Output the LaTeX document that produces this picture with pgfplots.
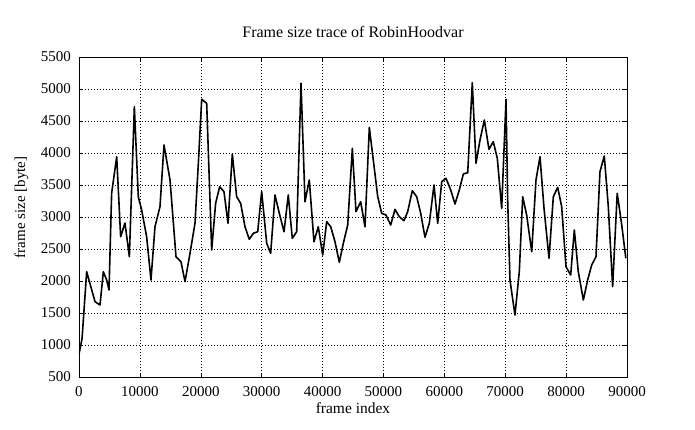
\documentclass[border=0pt]{standalone}
\usepackage{fontspec}
\setmainfont{Liberation Serif}
\usepackage{pgfplots}
\pgfplotsset{compat=1.18}
\begin{document}
\fontsize{15}{18}\selectfont
\begin{tikzpicture}[x=1pt,y=1pt]
\path[use as bounding box] (-79,-52) rectangle (616,377);
\begin{axis}[
  at={(0,0)}, anchor=south west,
  scale only axis, width=548pt, height=320pt,
  xmin=0, xmax=90000, ymin=500, ymax=5500,
  xtick={0,10000,...,90000}, ytick={500,1000,...,5500},
  scaled ticks=false,
  /pgf/number format/.cd, set thousands separator={}, assume math mode=true, /pgfplots/.cd,
  tick align=inside, tick pos=both, major tick length=4pt,
  tick style={black, line width=0.5pt},
  grid=major, major grid style={black, dash pattern=on 1pt off 2pt, line width=0.5pt},
  axis line style={line width=0.6pt},
  title={Frame size trace of RobinHoodvar},
  title style={at={(axis description cs:0.5,1.04375)}, anchor=base, font=\fontsize{16}{19}\selectfont},
  xlabel={frame index}, ylabel={frame size [byte]},
  xlabel style={at={(axis description cs:0.5,-0.1156)}, anchor=base, font=\fontsize{15.5}{18}\selectfont},
  ylabel style={at={(axis description cs:-0.0985,0.53)}, anchor=base, font=\fontsize{15}{18}\selectfont},
  tick label style={font=\fontsize{15}{18}\selectfont, inner sep=0pt},
  yticklabel style={anchor=east, xshift=-8pt},
  xticklabel style={anchor=north, yshift=-9pt},
]
\addplot[black, line width=1.6pt, line join=round] coordinates {
(0,860) (500,1100) (1260,2145) (2630,1677) (3450,1625) (4000,2145) (4540,2016) (4930,1860)
(5360,3370) (6190,3942) (6840,2692) (7550,2906) (8270,2380) (9090,4723) (9740,3317)
(10290,3109) (11110,2692) (11820,2016) (12480,2848) (13300,3161) (13960,4125) (14950,3578)
(15930,2380) (16750,2302) (17410,1990) (18230,2432) (19050,2901) (19600,3839) (20150,4839)
(20970,4776) (21790,2484) (22440,3214) (23100,3473) (23810,3396) (24470,2901) (25180,3984)
(25890,3317) (26550,3214) (27260,2848) (27970,2651) (28630,2745) (29350,2770) (30000,3396)
(30830,2589) (31480,2432) (32190,3344) (32900,3057) (33670,2770) (34370,3344) (35030,2667)
(35750,2770) (36460,5089) (37120,3239) (37820,3578) (38590,2614) (39300,2848) (40020,2406)
(40680,2927) (41340,2848) (42040,2614) (42750,2292) (43410,2589) (44130,2875) (44890,4073)
(45490,3083) (46260,3239) (46970,2848) (47680,4401) (48330,3891) (49060,3317) (49710,3057)
(50420,3031) (51190,2875) (51900,3120) (52600,3005) (53370,2942) (53980,3083) (54740,3411)
(55460,3317) (56120,3057) (56820,2683) (57530,2901) (58300,3500) (58910,2901) (59570,3552)
(60270,3605) (61050,3422) (61750,3203) (62460,3422) (63120,3672) (63840,3692) (64590,5099)
(65200,3839) (65860,4203) (66570,4516) (67330,4058) (68040,4177) (68700,3917) (69420,3136)
(70130,4839) (70400,3266) (70780,2016) (71600,1469) (72310,2145) (72870,3317) (73520,3031)
(74350,2458) (75050,3578) (75710,3942) (76370,3136) (77190,2355) (77900,3317) (78620,3464)
(79270,3161) (79980,2223) (80750,2094) (81350,2797) (82000,2145) (82830,1703) (83540,2016)
(84200,2250) (84910,2380) (85560,3708) (86270,3953) (86930,3161) (87640,1911) (88390,3370)
(89100,2901) (89810,2355)
};
\end{axis}
\end{tikzpicture}
\end{document}
